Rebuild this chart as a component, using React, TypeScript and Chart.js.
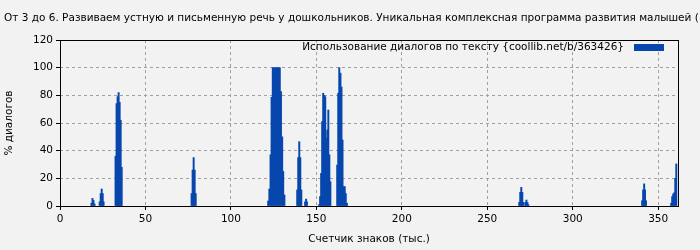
import { useEffect, useRef } from "react";
import { Chart, registerables } from "chart.js";
Chart.register(...registerables);

const titleText =
  "От 3 до 6. Развиваем устную и письменную речь у дошкольников. Уникальная комплексная программа развития малышей (";
const legendText = "Использование диалогов по тексту {coollib.net/b/363426}";
const xAxisTitle = "Счетчик знаков (тыс.)";
const yAxisTitle = "% диалогов";

// position in text, thousands of characters
const positions = [
  18.4, 19.0, 19.6, 20.2,
  23.2, 23.8, 24.4, 25.0, 25.5,
  32.5, 33.1, 33.7, 34.3, 34.9, 35.5, 36.1,
  77.0, 77.6, 78.2, 78.8, 79.4,
  121.8, 122.5, 123.2, 123.8, 124.5, 125.2, 125.9, 126.6, 127.2, 127.9, 128.6, 129.3, 130.0, 130.6, 131.3,
  138.8, 139.4, 140.0, 140.6, 141.2,
  143.4, 144.0, 144.5,
  151.6, 152.2, 152.8, 153.4, 154.0, 154.6, 155.2, 155.8, 156.4, 157.0, 157.6, 158.2,
  162.2, 162.8, 163.4, 164.1, 164.7, 165.3, 166.0, 166.6, 167.2, 167.9,
  268.7, 269.3, 269.9, 270.5, 271.1, 272.3, 272.9, 273.5, 274.0,
  340.6, 341.2, 341.8, 342.3, 342.9,
  357.6, 358.2, 358.8, 359.4, 360.0, 360.6,
];
// % of dialogue
const percents = [
  2, 5.5, 4, 1.5,
  3, 9, 12.3, 9, 3,
  36, 74, 79, 82, 75, 62, 28,
  9, 26, 35, 26, 9,
  3.6, 12.3, 37, 78.6, 100, 100, 100, 100, 100, 100, 100, 82.7, 50, 25, 8,
  11.6, 35, 46.5, 35, 11.6,
  3, 5, 3,
  1, 6.8, 23.6, 61, 81.5, 80, 79, 49, 55, 69.4, 37, 17.6,
  29.6, 81.5, 100, 96, 86, 47.7, 14, 14, 9, 2,
  2.6, 9.9, 13.5, 9.9, 2.6, 2.6, 4.3, 2.6, 1,
  3.8, 11.6, 16, 11.6, 3.8,
  2, 6.8, 8.7, 9.6, 20, 30.4,
];
const xMax = 361.6;
const yTicks = [0, 20, 40, 60, 80, 100, 120];

const BAR = "#0747ad";
const FONT = "DejaVu Sans";
const FS = 10.5;

const overlay = {
  id: "overlay",
  afterDraw(chart: any) {
    const { ctx, chartArea: a } = chart;
    ctx.save();
    ctx.setLineDash([]);
    ctx.strokeStyle = "#000";
    ctx.lineWidth = 1;
    ctx.strokeRect(Math.round(a.left) + 0.5, Math.round(a.top) + 0.5, Math.round(a.right - a.left), Math.round(a.bottom - a.top));
    ctx.fillStyle = "#000";
    ctx.font = `${FS}px '${FONT}'`;
    ctx.textBaseline = "middle";
    ctx.textAlign = "left";
    ctx.fillText(titleText, 4, 18);
    ctx.textAlign = "right";
    ctx.fillText(legendText, a.right - 54, a.top + 7);
    ctx.fillStyle = BAR;
    ctx.fillRect(a.right - 44, a.top + 4, 30, 7);
    ctx.restore();
  },
};

export default function App() {
  const ref = useRef<HTMLCanvasElement>(null);
  useEffect(() => {
    document.body.style.margin = "0";
    const chart = new Chart(ref.current!, {
      type: "bar",
      data: {
        datasets: [
          {
            data: positions.map((x, i) => ({ x, y: percents[i] })),
            backgroundColor: BAR,
            barThickness: 1.3,
          },
        ],
      },
      options: {
        animation: false,
        responsive: false,
        devicePixelRatio: 1,
        layout: { padding: { top: 40, right: 22, left: 0, bottom: 0 } },
        plugins: { legend: { display: false }, tooltip: { enabled: false } },
        scales: {
          x: {
            type: "linear",
            min: 0,
            max: xMax,
            offset: false,
            afterFit: (s: any) => {
              s.height = 44;
            },
            ticks: { stepSize: 50, includeBounds: false, color: "#000", font: { family: FONT, size: FS }, padding: 3 },
            grid: { color: "#a0a0a0", tickColor: "#000", tickLength: 4, offset: false },
            border: { display: false, dash: [3, 3] },
            title: { display: true, text: xAxisTitle, color: "#000", font: { family: FONT, size: FS }, padding: { top: 6 } },
          },
          y: {
            min: 0,
            max: 120,
            afterFit: (s: any) => {
              s.width = 60;
            },
            afterBuildTicks: (s: any) => {
              s.ticks = yTicks.map((v) => ({ value: v }));
            },
            ticks: { color: "#000", font: { family: FONT, size: FS }, padding: 3 },
            grid: { color: "#a0a0a0", tickColor: "#000", tickLength: 4 },
            border: { display: false, dash: [3, 3] },
            title: { display: true, text: yAxisTitle, color: "#000", font: { family: FONT, size: FS }, padding: { top: 3, bottom: 0 } },
          },
        },
      },
      plugins: [overlay],
    });
    return () => chart.destroy();
  }, []);
  return (
    <div style={{ position: "fixed", left: 0, top: 0, width: 700, height: 250, background: "#f2f2f2" }}>
      <canvas ref={ref} width={700} height={250} />
    </div>
  );
}
